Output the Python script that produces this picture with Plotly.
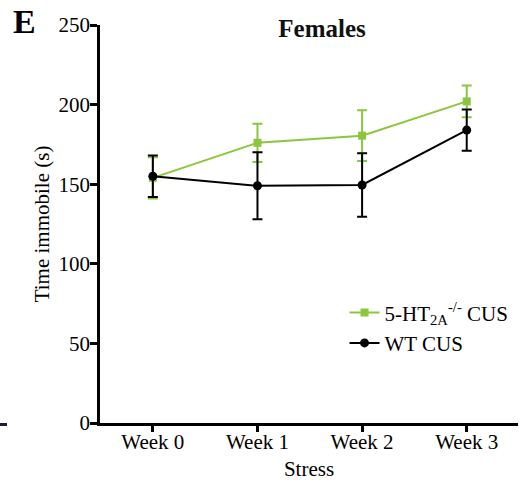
import plotly.graph_objects as go

weeks = ["Week 0", "Week 1", "Week 2", "Week 3"]
ko_mean = [154, 176, 180.5, 202]
ko_err = [13, 12, 16, 10]
wt_mean = [155, 149, 149.5, 184]
wt_err = [13, 21, 20, 13]
y_ticks = [0, 50, 100, 150, 200, 250]

GREEN = "#8cc63e"
FONT = "Liberation Serif, Times New Roman, serif"

fig = go.Figure()
fig.add_trace(go.Scatter(
    x=weeks, y=ko_mean, mode="lines+markers",
    name="5-HT<sub>2A</sub><sup>-/-</sup> CUS",
    line=dict(color=GREEN, width=2),
    marker=dict(symbol="square", size=8, color=GREEN),
    error_y=dict(type="data", array=ko_err, color=GREEN, thickness=2, width=5),
))
fig.add_trace(go.Scatter(
    x=weeks, y=wt_mean, mode="lines+markers",
    name="WT CUS",
    line=dict(color="black", width=2),
    marker=dict(symbol="circle", size=9, color="black"),
    error_y=dict(type="data", array=wt_err, color="black", thickness=2, width=5),
))

fig.update_layout(
    width=522, height=481,
    margin=dict(l=100, r=4, t=25, b=58, autoexpand=False),
    plot_bgcolor="white", paper_bgcolor="white",
    font=dict(family=FONT, size=21, color="black"),
    title=dict(text="<b>Females</b>", x=322 / 522, xanchor="center",
               y=1 - 28 / 481, yanchor="middle",
               font=dict(family=FONT, size=25, color="#111")),
    showlegend=True,
    legend=dict(x=0.585, y=0.328, xanchor="left", yanchor="top",
                bgcolor="rgba(0,0,0,0)", itemwidth=30, tracegroupgap=0,
                font=dict(family=FONT, size=21, color="black")),
    xaxis=dict(
        type="category", range=[-0.505, 3.49], automargin=False,
        showline=True, linecolor="black", linewidth=2.5,
        ticks="outside", ticklen=6, tickwidth=2.5, tickcolor="black",
        ticklabelstandoff=-8,
        showgrid=False, zeroline=False,
        title=dict(text="Stress", standoff=10, font=dict(size=21)),
    ),
    yaxis=dict(
        range=[0, 250], tickvals=y_ticks, automargin=False,
        showline=True, linecolor="black", linewidth=2.5,
        ticks="outside", ticklen=7, tickwidth=2.5, tickcolor="black",
        ticklabelstandoff=-4,
        showgrid=False, zeroline=False,
        title=dict(text="Time immobile (s)", standoff=4, font=dict(size=21)),
    ),
)

fig.add_annotation(text="<b>E</b>", xref="paper", yref="paper",
                   x=-100 / 418 + 24 / 418, y=1 + 3 / 398, xanchor="center", yanchor="middle",
                   showarrow=False, font=dict(family=FONT, size=34, color="black"))

# short dark stroke at the left edge
fig.add_shape(type="line", xref="paper", yref="paper",
              x0=-100 / 418, x1=-93 / 418, y0=-1.5 / 398, y1=-1.5 / 398,
              line=dict(color="#1b1b3a", width=3))

fig.write_html("out.html")
